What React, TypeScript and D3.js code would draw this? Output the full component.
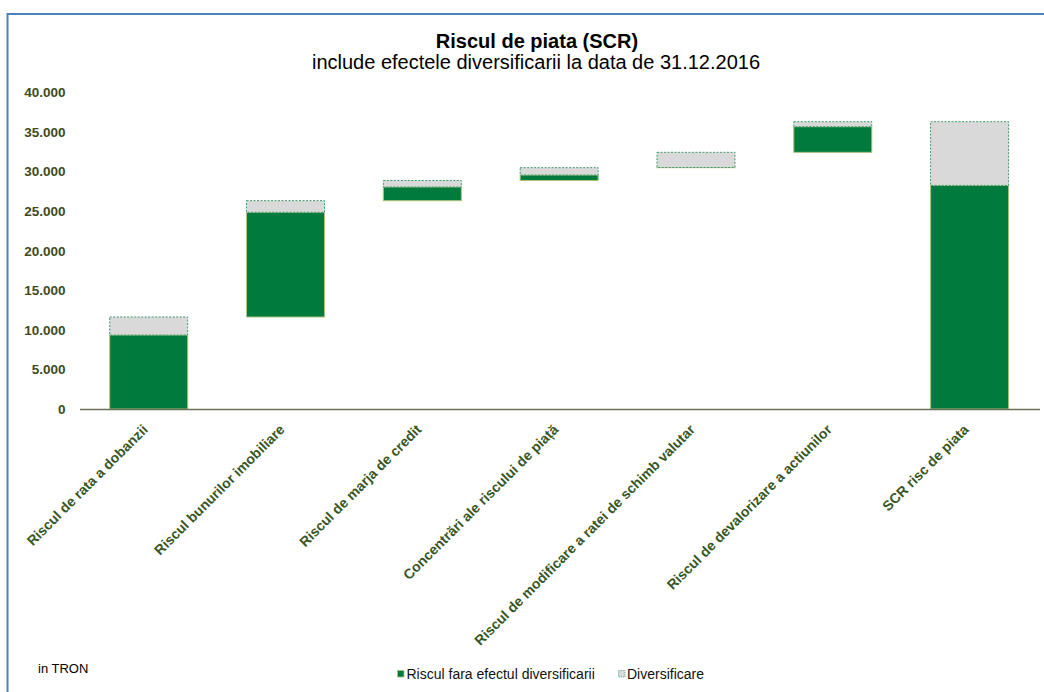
import React from "react";
import * as d3 from "d3";

const categories = [
  "Riscul de rata a dobanzii",
  "Riscul bunurilor imobiliare",
  "Riscul de marja de credit",
  "Concentrări ale riscului de piață",
  "Riscul de modificare a ratei de schimb valutar",
  "Riscul de devalorizare a actiunilor",
  "SCR risc de piata",
];
// component risks (green) and diversification (grey); last bar is the total
const riscFaraDiversificare = [9350, 13230, 1730, 690, 20, 3240, 28260];
const diversificare = [2280, 1470, 820, 930, 1920, 630, 8050];
const isTotal = [false, false, false, false, false, false, true];
const yTicks = [0, 5000, 10000, 15000, 20000, 25000, 30000, 35000, 40000];

const W = 1044;
const H = 692;
const GREEN = "#007a3d";
const GREY = "#d9d9d9";
const LABEL = "#375623";
const FONT = "'Liberation Sans', Arial, sans-serif";

export default function App() {
  const x = d3
    .scaleBand<string>()
    .domain(categories)
    .range([80.3, 1038])
    .paddingInner(0.43)
    .paddingOuter(0.215);
  const y = d3.scaleLinear().domain([0, 40000]).range([409, 92.5]);
  const fmt = (v: number) => d3.format(",")(v).replace(/,/g, ".");

  // waterfall bases
  let run = 0;
  const bars = categories.map((c, i) => {
    const base = isTotal[i] ? 0 : run;
    const g0 = base;
    const g1 = base + riscFaraDiversificare[i];
    const d1 = g1 + diversificare[i];
    if (!isTotal[i]) run = d1;
    return { c, g0, g1, d1 };
  });

  return (
    <svg
      width={W}
      height={H}
      style={{ position: "absolute", left: 0, top: 0, fontFamily: FONT }}
    >
      <rect x={0} y={0} width={W} height={H} fill="#fff" />
      <rect x={7.5} y={14} width={1200} height={800} fill="none" stroke="#4f81bd" strokeWidth={2} />
      <text x={537} y={48} textAnchor="middle" fontSize={20} fontWeight="bold" fill="#000">
        Riscul de piata (SCR)
      </text>
      <text x={536} y={69} textAnchor="middle" fontSize={20} fill="#000">
        include efectele diversificarii la data de 31.12.2016
      </text>
      {yTicks.map((t) => (
        <text
          key={t}
          x={65.5}
          y={y(t)}
          dy="0.36em"
          textAnchor="end"
          fontSize={13.5}
          fontWeight="bold"
          fill="#3d4b22"
        >
          {fmt(t)}
        </text>
      ))}
      {bars.map((b) => {
        const bx = x(b.c)!;
        const bw = x.bandwidth();
        return (
          <g key={b.c}>
            <rect
              x={bx}
              y={y(b.g1)}
              width={bw}
              height={Math.max(0, y(b.g0) - y(b.g1))}
              fill={GREEN}
              stroke="#a9c27a"
              strokeWidth={1}
            />
            <rect
              x={bx}
              y={y(b.d1)}
              width={bw}
              height={Math.max(0, y(b.g1) - y(b.d1))}
              fill={GREY}
              stroke="#3f9a6c"
              strokeWidth={1}
              strokeDasharray="2,1.5"
            />
          </g>
        );
      })}
      <line x1={80} x2={1040} y1={409.5} y2={409.5} stroke="#6b6f5a" strokeWidth={1.5} />
      {categories.map((c) => {
        const cx = x(c)! + x.bandwidth() / 2;
        return (
          <text
            key={c}
            transform={`translate(${cx},${430.5}) rotate(-45)`}
            textAnchor="end"
            fontSize={14}
            fontWeight="bold"
            fill={LABEL}
          >
            {c}
          </text>
        );
      })}
      <text x={38} y={673} fontSize={13} fill="#000">
        in TRON
      </text>
      <rect x={397.5} y={670.5} width={6.5} height={6.5} fill={GREEN} stroke="#a9c27a" strokeWidth={0.8} />
      <text x={406.5} y={679} fontSize={14} fill="#111">
        Riscul fara efectul diversificarii
      </text>
      <rect x={618.5} y={670.5} width={6.5} height={6.5} fill={GREY} stroke="#3f9a6c" strokeWidth={0.8} strokeDasharray="1,1" />
      <text x={627} y={679} fontSize={14} fill="#111">
        Diversificare
      </text>
    </svg>
  );
}
